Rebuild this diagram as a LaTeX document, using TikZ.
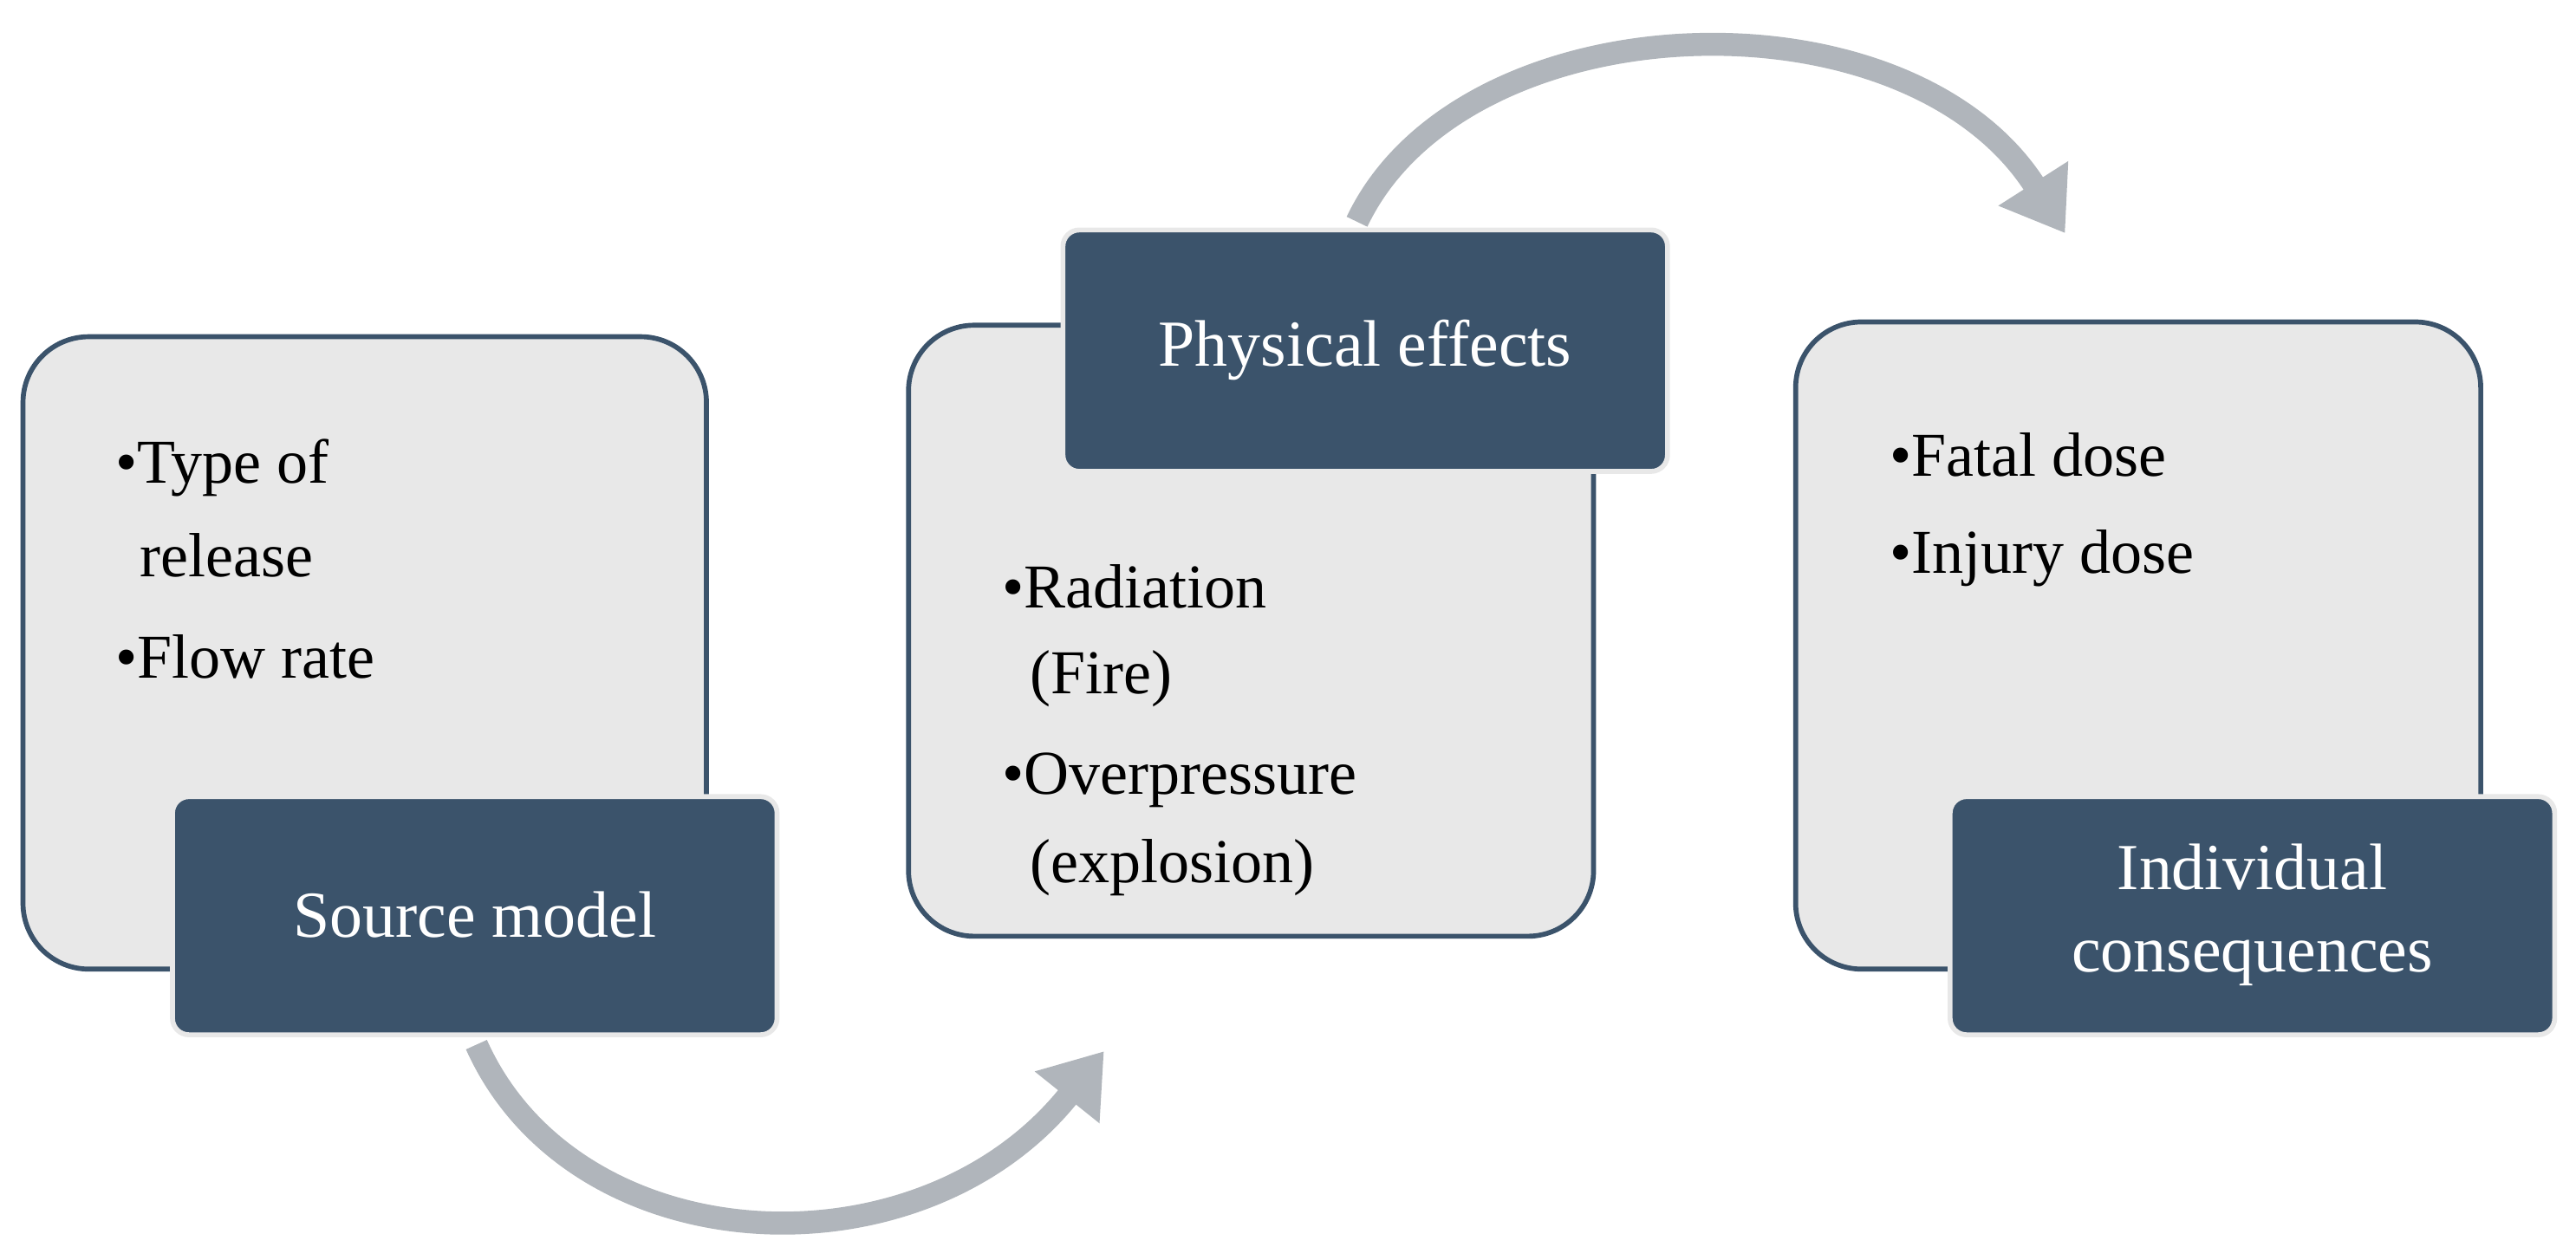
\documentclass[tikz,border=0pt]{standalone}
\usepackage{fontspec}
\setmainfont{Liberation Serif}
\usetikzlibrary{arrows.meta}
\definecolor{darkb}{HTML}{3B536B}
\definecolor{lightg}{HTML}{E8E8E8}
\definecolor{arrg}{HTML}{B0B5BB}
\begin{document}
\begin{tikzpicture}[x=1pt,y=-1pt,
  lightbox/.style={draw=darkb,fill=lightg,line width=3pt,rounded corners=40pt},
  darkbox/.style={draw=lightg,fill=darkb,line width=3pt,rounded corners=10pt,text=white,font=\fontsize{40}{50}\selectfont,align=center},
  txt/.style={anchor=west,font=\fontsize{38}{46}\selectfont,inner sep=0pt},
  bigarrow/.style={draw=arrg,line width=14pt,-{Triangle[length=36pt,width=48pt]}}]
\useasboundingbox (0,0) rectangle (1568,759);
% box 1
\draw[lightbox] (14,205) rectangle (430,590);
\node[txt] (t1) at (70,285) {•Type of};
\node[txt] (t2) at (85,338) {release};
\node[txt] (t3) at (70,400) {•Flow rate};
\draw[darkbox] (105,485) rectangle (473,630);
\node[darkbox,draw=none,fill=none] (s) at (289,557) {Source model};
% box 2
\draw[lightbox] (553,198) rectangle (970,570);
\node[txt] (r1) at (610,357) {•Radiation};
\node[txt] (r2) at (627,413) {(Fire)};
\node[txt] (r3) at (610,475) {•Overpressure};
\node[txt] (r4) at (627,528) {(explosion)};
\draw[darkbox] (647,140) rectangle (1015,287);
\node[darkbox,draw=none,fill=none] (p) at (831,213) {Physical effects};
% box 3
\draw[lightbox] (1093,196) rectangle (1510,590);
\node[txt] (f1) at (1150,277) {•Fatal dose};
\node[txt] (f2) at (1150,340) {•Injury dose};
\draw[darkbox] (1187,485) rectangle (1555,630);
\node[darkbox,draw=none,fill=none] (ic) at (1371,557) {Individual\\consequences};
% arrows
\coordinate (a1s) at (290,636);
\coordinate (a1e) at (672,640);
\coordinate (a2s) at (826,135);
\coordinate (a2e) at (1257,142);
\draw[bigarrow] (a1s) .. controls (350,770) and (560,780) .. (a1e);
\draw[bigarrow] (a2s) .. controls (890,0) and (1160,-10) .. (a2e);
\end{tikzpicture}
\end{document}
